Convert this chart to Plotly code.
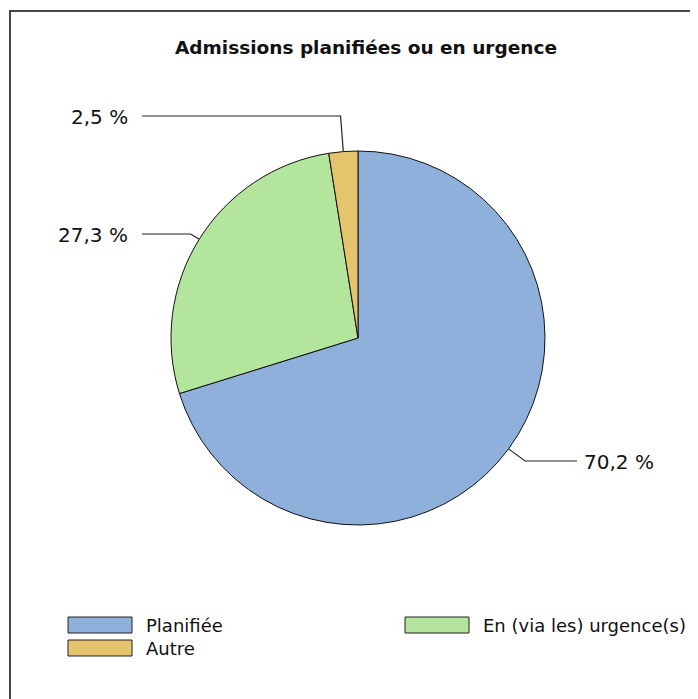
import math
import plotly.graph_objects as go

labels = ["Planifiée", "En (via les) urgence(s)", "Autre"]
values = [70.2, 27.3, 2.5]
pct_text = ["70,2 %", "27,3 %", "2,5 %"]
colors = ["#8FB0DA", "#B3E59C", "#E4C56D"]
title = "Admissions planifiées ou en urgence"

W, H = 698, 699
OFF = 8  # page margin: screen pixel = figure pixel + 8
FONT = "DejaVu Sans"

# pie geometry (screen pixels, y down)
cx, cy, r = 358, 338, 187
# where each label sits vertically (screen pixels)
label_y = [461, 234, 116]

fig = go.Figure()

fig.add_trace(go.Pie(
    labels=labels, values=values,
    sort=False, direction="clockwise", rotation=0,
    marker=dict(colors=colors, line=dict(color="#111111", width=1)),
    textinfo="none", hoverinfo="label+percent", showlegend=False,
    domain=dict(x=[(cx - r - OFF) / W, (cx + r - OFF) / W],
                y=[1 - (cy + r - OFF) / H, 1 - (cy - r - OFF) / H]),
))

annotations = []
shapes = []

# leader lines and percentage labels, following each slice's mid angle
total = sum(values)
cum = 0
for i, v in enumerate(values):
    th = 2 * math.pi * (cum + v / 2) / total
    cum += v
    px = cx + r * math.sin(th)
    py = cy - r * math.cos(th)
    t = (label_y[i] - py) / (-math.cos(th))
    ex = px + t * math.sin(th)
    right = math.sin(th) > 0
    end_x = 577 if right else 142
    fig.add_trace(go.Scatter(
        x=[px, ex, end_x], y=[py, label_y[i], label_y[i]],
        mode="lines", line=dict(color="#222222", width=1.2),
        hoverinfo="skip", showlegend=False,
    ))
    annotations.append(dict(
        x=582 if right else 130, y=label_y[i] + 1, xref="x", yref="y",
        text=pct_text[i], showarrow=False,
        xanchor="left" if right else "right", yanchor="middle",
        font=dict(family=FONT, size=20, color="#111111"),
    ))

# legend drawn by hand: 2 columns, row-major
leg_pos = [(68, 617), (405, 617), (68, 640)]
for i, (lx, ly) in enumerate(leg_pos):
    shapes.append(dict(type="rect", xref="x", yref="y",
                       x0=lx, x1=lx + 64, y0=ly, y1=ly + 16,
                       fillcolor=colors[i], line=dict(color="#222222", width=1)))
    annotations.append(dict(
        x=lx + 76, y=ly + 8, xref="x", yref="y", text=labels[i],
        showarrow=False, xanchor="left", yanchor="middle",
        font=dict(family=FONT, size=18, color="#111111"),
    ))

annotations.append(dict(
    x=366, y=47, xref="x", yref="y", text="<b>" + title + "</b>",
    showarrow=False, xanchor="center", yanchor="middle",
    font=dict(family=FONT, size=18.5, color="#111111"),
))

# outer frame
shapes.append(dict(type="rect", xref="x", yref="y", x0=10, y0=11, x1=760, y1=760,
                   line=dict(color="#444444", width=2), fillcolor="rgba(0,0,0,0)"))

fig.update_layout(
    width=W, height=H,
    margin=dict(l=0, r=0, t=0, b=0),
    paper_bgcolor="white", plot_bgcolor="rgba(0,0,0,0)",
    xaxis=dict(range=[OFF, W + OFF], visible=False, fixedrange=True),
    yaxis=dict(range=[H + OFF, OFF], visible=False, fixedrange=True),
    annotations=annotations, shapes=shapes,
    showlegend=False,
)

fig.write_html("out.html")
